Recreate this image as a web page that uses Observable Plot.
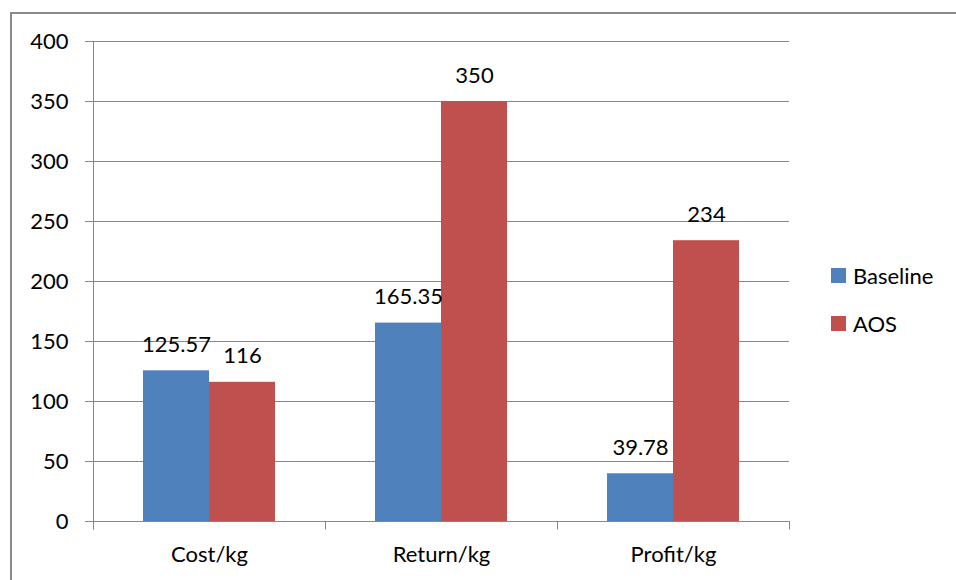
<!DOCTYPE html>
<html>
<head>
<meta charset="utf-8">
<script src="https://cdn.jsdelivr.net/npm/d3@7"></script>
<script src="https://cdn.jsdelivr.net/npm/@observablehq/plot@0.6"></script>
<style>
  html, body { margin: 0; padding: 0; background: #fff; overflow: hidden; }
  #wrap { position: relative; width: 956px; height: 580px; overflow: hidden; font-family: Lato, sans-serif; }
  #frame { position: absolute; left: 10px; top: 12px; width: 1200px; height: 900px; border-left: 2px solid #8a8a8a; border-top: 2px solid #8a8a8a; box-sizing: border-box; }
  #chart { position: absolute; left: 0; top: 0; }
  #legend { position: absolute; left: 831px; top: 264px; }
  .row { display: flex; align-items: center; height: 22px; margin-bottom: 26px; font-size: 22px; color: #000; }
  .sw { width: 15px; height: 15px; margin-right: 7px; }
</style>
</head>
<body>
<div id="wrap">
  <div id="frame"></div>
  <div id="chart"></div>
  <div id="legend"></div>
</div>
<script>
const categories = ["Cost/kg", "Return/kg", "Profit/kg"];
const series = ["Baseline", "AOS"];
const baselineValues = [125.57, 165.35, 39.78];
const aosValues = [116, 350, 234];
const yTicks = [0, 50, 100, 150, 200, 250, 300, 350, 400];
const colors = ["#4f81bd", "#c0504d"];

const seriesValues = [baselineValues, aosValues];
const data = [];
categories.forEach((c, i) => {
  series.forEach((s, j) => {
    data.push({category: c, series: s, value: seriesValues[j][i]});
  });
});

const gridColor = "#878787";

const chart = Plot.plot({
  width: 956,
  height: 580,
  marginLeft: 92,
  marginRight: 167,
  marginTop: 41,
  marginBottom: 59,
  style: {fontFamily: "Lato, sans-serif", fontSize: "22px", color: "#000", background: "transparent", overflow: "visible"},
  fx: {domain: categories, padding: 0, label: null},
  x: {domain: series, paddingInner: 0, paddingOuter: 0.747, axis: null},
  y: {domain: [0, 400], label: null},
  color: {domain: series, range: colors},
  marks: [
    Plot.ruleY(yTicks, {stroke: gridColor, strokeWidth: 1}),
    Plot.barY(data, {fx: "category", x: "series", y: "value", fill: "series"}),
    Plot.text(data, {fx: "category", x: "series", y: "value", text: d => String(d.value), dy: -26, lineAnchor: "middle", fill: "#000", fontSize: 22}),
    Plot.axisY({ticks: yTicks, tickSize: 8, tickPadding: 17, stroke: gridColor, fill: "#000", fontSize: 22, label: null}),
    Plot.axisFx({anchor: "bottom", tickSize: 0, tickPadding: 25, fontSize: 22, fill: "#000", label: null})
  ]
});

document.getElementById("chart").appendChild(chart);

// axis line and category boundary ticks, positioned with the plot's own scales
const fx = chart.scale("fx");
const y = chart.scale("y");
const svg = d3.select(chart);
const y0 = y.apply(0);
const yTop = y.apply(yTicks[yTicks.length - 1]);
const bounds = categories.map(c => fx.apply(c));
bounds.push(fx.apply(categories[categories.length - 1]) + fx.bandwidth);
const g = svg.append("g").attr("stroke", gridColor).attr("stroke-width", 1);
g.append("line")
  .attr("x1", bounds[0] + 0.5).attr("x2", bounds[0] + 0.5)
  .attr("y1", yTop).attr("y2", y0 + 8.5);
bounds.forEach(b => {
  g.append("line")
    .attr("x1", Math.round(b) + 0.5).attr("x2", Math.round(b) + 0.5)
    .attr("y1", y0).attr("y2", y0 + 8.5);
});

// legend
const legend = d3.select("#legend");
series.forEach((s, i) => {
  const row = legend.append("div").attr("class", "row");
  row.append("div").attr("class", "sw").style("background", colors[i]);
  row.append("span").text(s);
});
</script>
</body>
</html>
